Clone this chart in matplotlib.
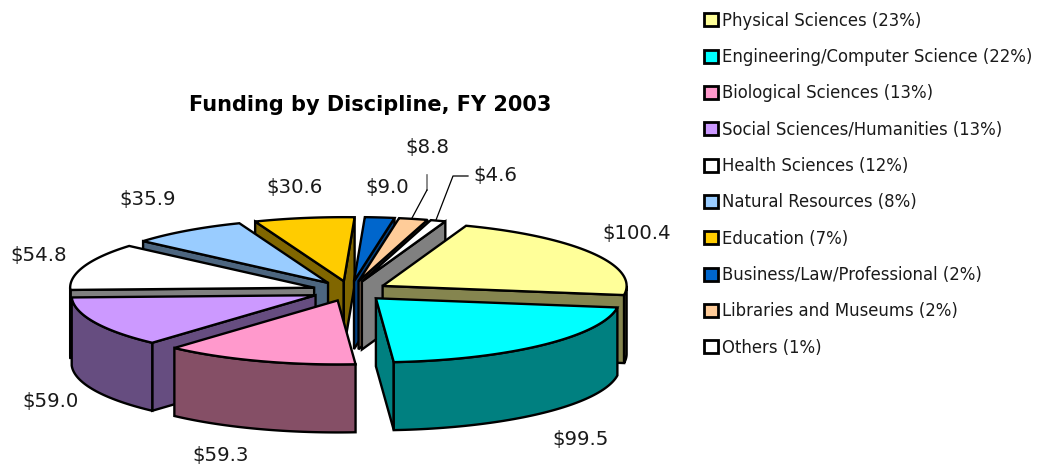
import numpy as np
import matplotlib
matplotlib.use("Agg")
import matplotlib.pyplot as plt
from matplotlib.patches import Polygon, Patch

# -----------------------------
# Data
# -----------------------------
title = "Funding by Discipline, FY 2003"

legend_labels = [
    "Physical Sciences (23%)",
    "Engineering/Computer Science (22%)",
    "Biological Sciences (13%)",
    "Social Sciences/Humanities (13%)",
    "Health Sciences (12%)",
    "Natural Resources (8%)",
    "Education (7%)",
    "Business/Law/Professional (2%)",
    "Libraries and Museums (2%)",
    "Others (1%)",
]
funding = [100.4, 99.5, 59.3, 59.0, 54.8, 35.9, 30.6, 9.0, 8.8, 4.6]

top_colors = ["#FFFF99", "#00FFFF", "#FF99CC", "#CC99FF", "#FFFFFF",
              "#99CCFF", "#FFCC00", "#0066CC", "#FFCC99", "#FFFFFF"]
wall_colors = ["#85854F", "#008080", "#854F66", "#664D80", "#808080",
               "#4D6680", "#806600", "#003F80", "#806650", "#808080"]

# value label centres, in pixels
label_pos = [(637, 234), (581, 440), (221, 455), (51, 401), (39, 255),
             (148, 200), (295, 188), (387, 187), (427, 147), (495, 176)]

# -----------------------------
# Pie geometry (pixels)
# -----------------------------
cx, cy = 350, 291
rx, ry = 244, 64
depth = 68
explode = 38
start_angle = 20.0
line_w = 1.7
# back to front
draw_order = [6, 7, 8, 9, 5, 0, 4, 3, 1, 2]


def rim(tip, theta):
    t = np.radians(theta)
    return np.column_stack([tip[0] + rx * np.sin(t), tip[1] - ry * np.cos(t)])


def add_poly(ax, pts, color):
    ax.add_patch(Polygon(pts, closed=True, facecolor=color, edgecolor="black",
                         linewidth=line_w, joinstyle="miter"))


def side_wall(ax, tip, theta, color):
    p = rim(tip, np.array([theta]))[0]
    add_poly(ax, [tip, p, (p[0], p[1] + depth), (tip[0], tip[1] + depth)], color)


fig = plt.figure(figsize=(10.5, 4.68), dpi=100)
ax = fig.add_axes([0, 0, 1, 1])
ax.set_xlim(0, 1050)
ax.set_ylim(468, 0)
ax.axis("off")

total = sum(funding)
sweep = np.array(funding) / total * 360
starts = start_angle + np.concatenate([[0], np.cumsum(sweep)[:-1]])
ends = starts + sweep

# -----------------------------
# Draw wedges
# -----------------------------
for i in draw_order:
    a, b = starts[i], ends[i]
    mid = np.radians((a + b) / 2)
    tip = (cx + explode * np.sin(mid), cy - explode * ry / rx * np.cos(mid))

    # radial faces that look towards the viewer
    if np.sin(np.radians(a)) < 0:
        side_wall(ax, tip, a, wall_colors[i])
    if np.sin(np.radians(b)) > 0:
        side_wall(ax, tip, b, wall_colors[i])

    # outer wall, front half only
    lo, hi = max(a, 90), min(b, 270)
    if hi > lo:
        arc = rim(tip, np.linspace(lo, hi, 60))
        lower = arc[::-1] + [0, depth]
        add_poly(ax, np.vstack([arc, lower]), wall_colors[i])

    # top face
    arc = rim(tip, np.linspace(a, b, 80))
    add_poly(ax, np.vstack([[tip], arc]), top_colors[i])

# -----------------------------
# Leader lines and labels
# -----------------------------
ax.plot([427, 427], [175, 190], color="#777777", lw=1.2)
ax.plot([427, 412], [190, 218], color="black", lw=0.9)
ax.plot([468, 453, 436], [176, 176, 220], color="black", lw=0.9)

for val, (x, y) in zip(funding, label_pos):
    ax.text(x, y, f"${val:.1f}", ha="center", va="center",
            fontsize=14.2, color="#1A1A1A")

ax.text(370, 105, title, ha="center", va="center", fontsize=15,
        fontweight="bold", color="black")

# -----------------------------
# Legend
# -----------------------------
handles = [Patch(facecolor=c, edgecolor="black", linewidth=2) for c in top_colors]
leg = fig.legend(handles, legend_labels, loc="upper left",
                 bbox_to_anchor=(704 / 1050, 1 - 11.5 / 468), frameon=False,
                 fontsize=11.9, handlelength=0.85, handleheight=0.85,
                 handletextpad=0.25, labelspacing=1.11, borderpad=0, borderaxespad=0)
for t in leg.get_texts():
    t.set_color("#1A1A1A")

fig.savefig("out.png", dpi=100)
